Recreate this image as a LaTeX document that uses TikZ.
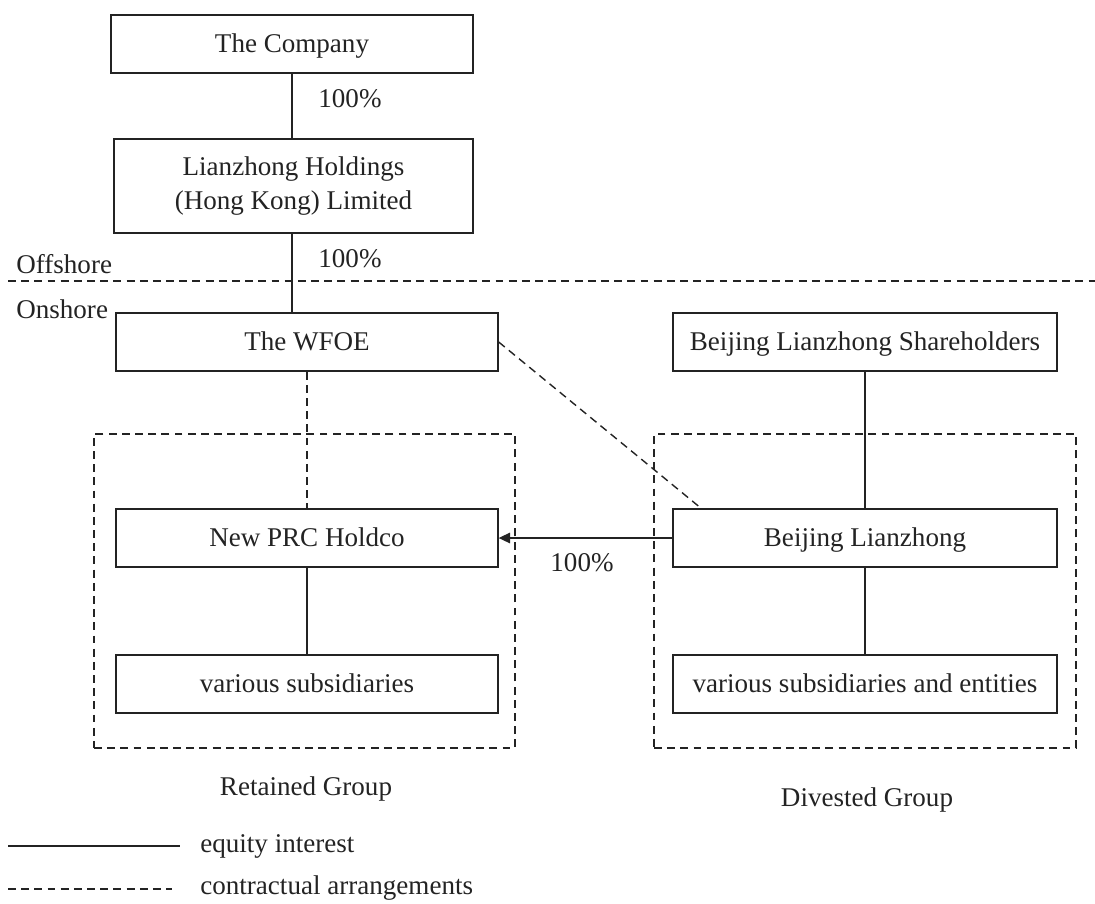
\documentclass[tikz,border=0pt]{standalone}
\usepackage{fontspec}
\setmainfont{Liberation Serif}
\usepackage{tikz}
\usetikzlibrary{arrows.meta, positioning, calc}
\definecolor{ink}{RGB}{35,35,35}

\begin{document}
\begin{tikzpicture}[x=0.02cm, y=-0.02cm,
    font=\fontsize{15.4}{19.8}\selectfont, text=ink,
    box/.style={draw=ink, line width=0.8pt, align=center, inner sep=0pt, minimum height=1.16cm},
    entity/.style={box, text height=10.5pt, text depth=0.3pt},
    groupbox/.style={draw=ink, line width=0.8pt, dash pattern=on 4.5pt off 3pt, inner sep=0pt},
    equity/.style={draw=ink, line width=0.8pt},
    contract/.style={draw=ink, line width=0.8pt, dash pattern=on 4.5pt off 3pt}]
  \useasboundingbox (0,0) rectangle (1095,903);

  \node[entity, minimum width=7.24cm] (company) at (292,44) {The Company};
  \node[box, minimum width=7.18cm, minimum height=1.88cm] (hk) at (293.5,186) {Lianzhong Holdings\\(Hong Kong) Limited};
  \node[entity, minimum width=7.64cm] (wfoe) at (307,342) {The WFOE};
  \node[entity, minimum width=7.68cm] (holders) at (865,342) {Beijing Lianzhong Shareholders};
  \node[entity, minimum width=7.64cm] (newco) at (307,538) {New PRC Holdco};
  \node[entity, minimum width=7.68cm] (bjlz) at (865,538) {Beijing Lianzhong};
  \node[entity, minimum width=7.64cm] (subsL) at (307,684) {various subsidiaries};
  \node[entity, minimum width=7.68cm] (subsR) at (865,684) {various subsidiaries and entities};

  \node[groupbox, minimum width=8.42cm, minimum height=6.28cm] (retained) at (304.5,591) {};
  \node[groupbox, minimum width=8.44cm, minimum height=6.28cm] (divested) at (865,591) {};
  \node (retainedlbl) at (306,789) {Retained Group};
  \node (divestedlbl) at (867,800) {Divested Group};

  % offshore / onshore split
  \coordinate (splitL) at (8,281);
  \coordinate (splitR) at (1095,281);
  \draw[contract] (splitL) -- (splitR);
  \node[anchor=west, inner sep=0pt] (offshore) at (16,264) {Offshore};
  \node[anchor=west, inner sep=0pt] (onshore) at (16,309) {Onshore};

  \draw[equity] (company.south) -- (company.south |- hk.north);
  \node (pctA) at (350,99) {100\%};
  \draw[equity] (hk.south -| company.south) -- (company.south |- wfoe.north);
  \node (pctB) at (350,259) {100\%};
  \draw[contract] (wfoe.south) -- (newco.north);
  \coordinate (bjlzTop) at (702,509);
  \draw[contract] (wfoe.east) -- (bjlzTop);
  \draw[equity] (holders.south) -- (bjlz.north);
  \draw[equity, -{Triangle[length=6.5pt,width=6pt]}] (bjlz.west) -- (newco.east);
  \node (pctC) at (582,563) {100\%};
  \draw[equity] (newco.south) -- (subsL.north);
  \draw[equity] (bjlz.south) -- (subsR.north);

  % legend
  \coordinate (eqA) at (8,846);
  \coordinate (eqB) at (180,846);
  \coordinate (ctA) at (8,889);
  \coordinate (ctB) at (172,889);
  \draw[equity] (eqA) -- (eqB);
  \draw[contract] (ctA) -- (ctB);
  \node[anchor=west, inner sep=0pt] (eqlbl) at (200,846) {equity interest};
  \node[anchor=west, inner sep=0pt] (ctlbl) at (200,888) {contractual arrangements};
\end{tikzpicture}
\end{document}
